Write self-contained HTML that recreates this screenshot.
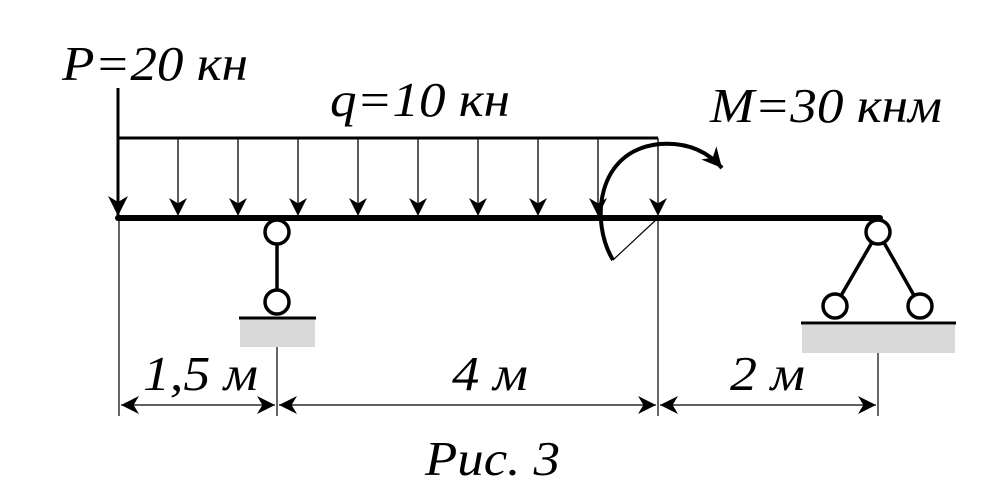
<!DOCTYPE html>
<html><head><meta charset="utf-8"><style>
html,body{margin:0;padding:0;background:#fff;}
svg text{font-family:"Liberation Serif",serif;font-style:italic;font-size:49px;fill:#000;}
</style></head><body>
<svg width="1004" height="498" viewBox="0 0 1004 498" xmlns="http://www.w3.org/2000/svg">
<defs>
<marker id="ahd" viewBox="0 0 10 10" refX="10" refY="5" markerWidth="22" markerHeight="18" markerUnits="userSpaceOnUse" orient="auto">
<path d="M0,0 L10,5 L0,10 L3,5 Z" fill="#000"/></marker>
<marker id="ahl" viewBox="0 0 10 10" refX="10" refY="5" markerWidth="24" markerHeight="20" markerUnits="userSpaceOnUse" orient="auto">
<path d="M0,0 L10,5 L0,10 L3,5 Z" fill="#000"/></marker>
</defs>
<text x="62" y="80" textLength="186" lengthAdjust="spacingAndGlyphs">P=20 кн</text>
<text x="330" y="116" textLength="180" lengthAdjust="spacingAndGlyphs">q=10 кн</text>
<text x="710" y="122" textLength="232" lengthAdjust="spacingAndGlyphs">M=30 кнм</text>
<text x="143" y="390" textLength="115" lengthAdjust="spacingAndGlyphs">1,5 м</text>
<text x="452" y="390" textLength="76" lengthAdjust="spacingAndGlyphs">4 м</text>
<text x="730" y="390" textLength="75" lengthAdjust="spacingAndGlyphs">2 м</text>
<text x="425" y="475" textLength="135" lengthAdjust="spacingAndGlyphs">Рис. 3</text>
<line x1="118" y1="138" x2="658" y2="138" stroke="#000" stroke-width="3"/>
<g stroke="#000" stroke-width="1.3" marker-end="url(#ahd)">
<line x1="178" y1="138" x2="178" y2="216"/>
<line x1="238" y1="138" x2="238" y2="216"/>
<line x1="298" y1="138" x2="298" y2="216"/>
<line x1="358" y1="138" x2="358" y2="216"/>
<line x1="418" y1="138" x2="418" y2="216"/>
<line x1="478" y1="138" x2="478" y2="216"/>
<line x1="538" y1="138" x2="538" y2="216"/>
<line x1="598" y1="138" x2="598" y2="216"/>
<line x1="658" y1="138" x2="658" y2="216"/>
</g>
<line x1="118" y1="88" x2="118" y2="216" stroke="#000" stroke-width="3" marker-end="url(#ahl)"/>
<line x1="118" y1="218" x2="880" y2="218" stroke="#000" stroke-width="6" stroke-linecap="round"/>
<path d="M613 260 C590 222, 596 150, 660 144 C688 142, 708 152, 722 168" fill="none" stroke="#000" stroke-width="4" marker-end="url(#ahl)"/>
<line x1="613" y1="260" x2="658" y2="218" stroke="#000" stroke-width="1.2"/>
<rect x="240" y="318" width="75" height="29" fill="#d9d9d9"/>
<line x1="239" y1="318" x2="316" y2="318" stroke="#000" stroke-width="3"/>
<line x1="277" y1="244" x2="277" y2="290" stroke="#000" stroke-width="3.5"/>
<circle cx="277" cy="232" r="12" fill="#fff" stroke="#000" stroke-width="3.5"/>
<circle cx="277" cy="302" r="12" fill="#fff" stroke="#000" stroke-width="3.5"/>
<rect x="802" y="325" width="153" height="28" fill="#d9d9d9"/>
<line x1="801" y1="323" x2="956" y2="323" stroke="#000" stroke-width="3"/>
<line x1="878" y1="232" x2="835" y2="306" stroke="#000" stroke-width="3.5"/>
<line x1="878" y1="232" x2="920" y2="306" stroke="#000" stroke-width="3.5"/>
<circle cx="878" cy="232" r="12" fill="#fff" stroke="#000" stroke-width="3.5"/>
<circle cx="835" cy="306" r="12" fill="#fff" stroke="#000" stroke-width="3.5"/>
<circle cx="920" cy="306" r="12" fill="#fff" stroke="#000" stroke-width="3.5"/>
<g stroke="#000" stroke-width="1.2">
<line x1="119" y1="220" x2="119" y2="416"/>
<line x1="277" y1="347" x2="277" y2="416"/>
<line x1="658" y1="220" x2="658" y2="416"/>
<line x1="878" y1="353" x2="878" y2="416"/>
</g>
<g stroke="#000" stroke-width="1.3" marker-end="url(#ahd)">
<line x1="198" y1="405" x2="275" y2="405"/>
<line x1="198" y1="405" x2="121" y2="405"/>
<line x1="468" y1="405" x2="279" y2="405"/>
<line x1="468" y1="405" x2="656" y2="405"/>
<line x1="768" y1="405" x2="660" y2="405"/>
<line x1="768" y1="405" x2="876" y2="405"/>
</g>
</svg>
</body></html>
